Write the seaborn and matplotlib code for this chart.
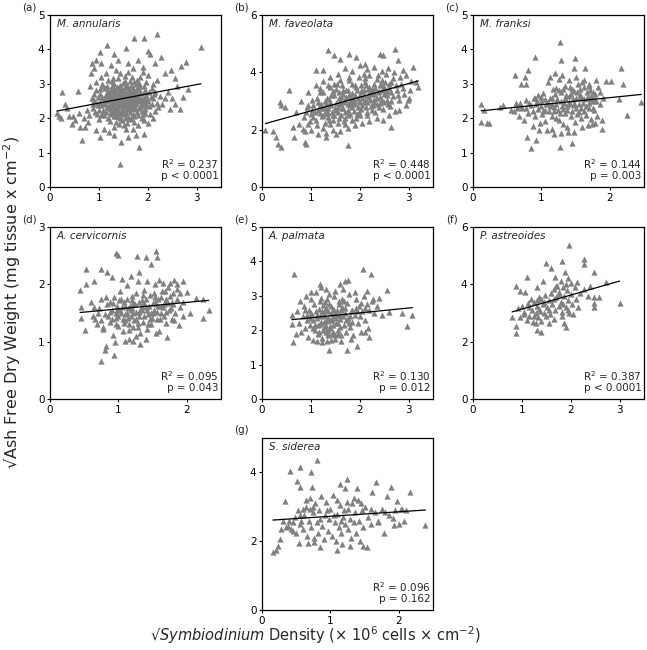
import pandas as pd
import matplotlib.pyplot as plt
import seaborn as sns

# === Data (sqrt symbiont density, sqrt AFDW) ===
species = ["M. annularis", "M. faveolata", "M. franksi", "A. cervicornis",
           "A. palmata", "P. astreoides", "S. siderea"]
panel_tags = ["(a)", "(b)", "(c)", "(d)", "(e)", "(f)", "(g)"]
r2_labels = ["0.237", "0.448", "0.144", "0.095", "0.130", "0.387", "0.096"]
p_labels = ["p < 0.0001", "p < 0.0001", "p = 0.003", "p = 0.043",
            "p = 0.012", "p < 0.0001", "p = 0.162"]
x_max = [3.5, 3.5, 2.5, 2.5, 3.5, 3.5, 2.5]
y_max = [5, 6, 5, 3, 5, 6, 5]
x_ticks = [[0, 1, 2, 3], [0, 1, 2, 3], [0, 1, 2], [0, 1, 2],
           [0, 1, 2, 3], [0, 1, 2, 3], [0, 1, 2]]
y_ticks = [[0, 1, 2, 3, 4, 5], [0, 2, 4, 6], [0, 1, 2, 3, 4, 5], [0, 1, 2, 3],
           [0, 1, 2, 3, 4, 5], [0, 2, 4, 6], [0, 2, 4]]

annularis = [
    (0.14, 2.15), (0.18, 2.05), (0.24, 2.77), (0.22, 2.0), (0.3, 2.4), (0.35, 2.3), (0.38, 2.05),
    (0.45, 1.84), (0.48, 2.05), (0.52, 1.95), (0.58, 2.8), (0.6, 2.15), (0.62, 1.75), (0.66, 1.36),
    (0.7, 2.0), (0.72, 1.75), (0.75, 2.25), (0.78, 1.9), (0.8, 2.1), (0.82, 2.95), (0.83, 3.3),
    (0.85, 3.6), (0.9, 3.45), (0.95, 3.7), (1.03, 3.93), (1.17, 4.13), (1.31, 3.88), (1.4, 3.7),
    (1.55, 4.05), (1.72, 4.34), (1.92, 4.32), (2.19, 4.44), (2.0, 3.95), (2.05, 3.88), (2.28, 3.77),
    (2.15, 3.6), (2.69, 3.52), (2.78, 3.62), (3.09, 4.08), (2.55, 3.16), (2.48, 3.4), (2.41, 2.77),
    (2.45, 2.28), (2.66, 2.28), (2.72, 2.62), (2.83, 2.86), (2.6, 2.95), (2.21, 2.33), (2.35, 2.6),
    (2.3, 2.4), (2.1, 2.0), (1.93, 1.55), (1.83, 1.17), (1.75, 1.5), (1.6, 1.45), (1.45, 1.31),
    (1.43, 0.68), (1.3, 1.5), (1.2, 1.6), (1.03, 1.46), (1.1, 1.7), (0.95, 1.65), (1.05, 3.6),
    (1.25, 3.55), (1.6, 3.6), (1.8, 3.7), (1.9, 3.5), (2.35, 3.3), (2.2, 3.1), (2.5, 2.6), (2.55, 2.4),
    (1.12, 2.41), (1.37, 2.63), (1.58, 2.28), (1.84, 2.77), (0.97, 2.12), (1.26, 2.95), (1.49, 2.51),
    (1.71, 2.06), (1.95, 2.44), (2.08, 2.89), (1.03, 2.71), (1.31, 2.18), (1.62, 2.84), (1.44, 2.02),
    (1.77, 2.52), (1.19, 2.33), (0.91, 2.53), (1.53, 3.07), (1.88, 2.21), (1.66, 2.61), (1.22, 1.93),
    (1.41, 2.87), (1.06, 2.98), (1.97, 2.66), (1.34, 2.45), (1.57, 1.86), (1.82, 3.02), (1.15, 2.67),
    (1.47, 2.29), (2.02, 2.35), (0.95, 2.82), (1.28, 2.71), (1.69, 2.37), (1.39, 3.18), (1.63, 1.98),
    (1.09, 2.24), (1.78, 2.89), (1.52, 2.68), (1.25, 2.12), (1.92, 1.95), (2.11, 2.58), (1.01, 1.97),
    (1.45, 2.76), (1.73, 2.73), (1.18, 3.12), (1.36, 1.89), (1.59, 2.45), (1.86, 2.41), (1.14, 2.55),
    (0.88, 2.31), (1.67, 3.21), (1.43, 2.39), (1.97, 3.05), (1.24, 2.83), (1.55, 2.15), (1.79, 2.17),
    (1.32, 2.99), (1.05, 2.39), (1.62, 2.52), (2.05, 2.13), (1.48, 1.95), (1.21, 2.49), (1.75, 2.98),
    (1.39, 2.24), (0.99, 2.61), (1.89, 2.58), (1.57, 2.91), (1.29, 2.34), (1.72, 1.89), (1.12, 2.88),
    (1.44, 3.31), (1.82, 2.31), (2.15, 2.77), (1.35, 2.78), (1.61, 2.33), (0.93, 2.19), (1.51, 2.59),
    (1.26, 2.58), (1.68, 2.79), (1.94, 2.82), (1.08, 2.14), (1.41, 2.11), (1.77, 2.44), (1.54, 3.24),
    (1.19, 2.02), (1.85, 3.19), (1.33, 2.52), (1.64, 2.19), (2.0, 2.49), (1.47, 2.84), (1.16, 2.77),
    (1.71, 2.64), (0.9, 2.71), (1.38, 2.35), (1.58, 2.71), (1.9, 2.12), (1.23, 2.26), (1.5, 2.42),
    (1.8, 2.62), (1.03, 2.85), (1.66, 2.95), (1.3, 2.06), (1.45, 2.59), (1.95, 2.27), (1.11, 2.45),
    (1.6, 2.04), (1.75, 2.28), (1.27, 3.08), (2.1, 2.98), (1.42, 1.84), (1.55, 2.38), (1.85, 2.93),
    (1.2, 2.64), (1.37, 2.91), (1.65, 2.44), (0.98, 2.37), (1.52, 1.79), (1.9, 3.35), (1.7, 3.45),
    (1.15, 3.3), (1.35, 3.4), (1.6, 3.35), (2.0, 3.25), (1.05, 3.2), (0.95, 3.05), (2.2, 2.45),
    (2.15, 2.2), (2.25, 2.65), (1.0, 2.25), (0.85, 2.6), (1.8, 1.8), (1.55, 1.7), (1.3, 1.75),
    (2.0, 1.85), (1.7, 1.7), (1.45, 2.68), (1.28, 2.46), (1.62, 2.67), (1.5, 2.2), (1.35, 2.3),
    (1.73, 2.5), (1.58, 2.57), (1.4, 2.55), (1.67, 2.3), (1.53, 2.9), (1.22, 2.72), (1.83, 2.5),
    (1.13, 2.52), (1.27, 2.38), (1.42, 2.47), (1.56, 2.62), (1.69, 2.55), (1.81, 2.68), (1.94, 2.6),
    (1.07, 2.62), (1.19, 2.8), (1.33, 2.66), (1.46, 2.42), (1.6, 2.76), (1.74, 2.4), (1.87, 2.72),
    (2.03, 2.77), (1.16, 2.32), (1.3, 2.62), (1.44, 2.88), (1.58, 2.5), (1.72, 2.82), (1.86, 2.36),
    (1.99, 2.57), (1.1, 2.08), (1.24, 2.18), (1.38, 2.05), (1.52, 2.12), (1.66, 2.02), (1.8, 2.08),
    (1.95, 2.15), (1.02, 2.48), (1.17, 2.94), (1.31, 2.84), (1.49, 3.02), (1.64, 3.08), (1.79, 3.12),
    (1.93, 2.95), (1.36, 2.56), (1.5, 2.36), (1.63, 2.39), (1.77, 2.62), (1.26, 2.42), (1.41, 2.72),
    (1.55, 2.53), (1.69, 2.46), (1.84, 2.56), (1.21, 2.57), (1.47, 2.63), (1.59, 2.82), (1.71, 2.3),
    (1.34, 2.2), (1.48, 2.71), (1.62, 2.28), (1.76, 2.76), (1.9, 2.46), (1.14, 2.18), (1.39, 2.42),
    (1.53, 2.47), (1.67, 2.69), (1.82, 2.86), (2.08, 2.42), (2.12, 2.7), (0.96, 2.45), (0.89, 2.4),
    (1.04, 2.1), (1.58, 2.97), (1.43, 2.97), (1.29, 3.18), (1.72, 3.05), (1.35, 2.05), (1.54, 2.0),
    (1.7, 2.13), (1.88, 2.02), (1.23, 2.38), (1.46, 2.16), (1.61, 2.6), (1.51, 2.79), (1.66, 2.53),
    (1.32, 2.76), (1.57, 2.33), (1.8, 2.52), (1.4, 2.61), (1.27, 2.27), (1.69, 2.87), (1.97, 2.37),
    (1.11, 2.6), (1.08, 2.93), (2.06, 2.62), (1.92, 2.75),
]

faveolata = [
    (0.07, 2.0), (0.22, 1.95), (0.29, 1.74), (0.32, 1.51), (0.39, 1.4), (0.36, 2.97), (0.38, 2.85),
    (0.56, 3.4), (0.48, 2.79), (0.63, 2.09), (0.65, 1.74), (0.84, 2.03), (0.87, 1.57), (0.9, 1.51),
    (1.18, 2.85), (1.11, 4.07), (1.25, 4.07), (1.35, 4.77), (1.47, 4.6), (1.6, 4.48), (1.79, 4.65),
    (1.93, 4.53), (2.1, 4.3), (2.41, 4.65), (2.48, 4.6), (2.72, 4.83), (2.79, 4.42), (2.89, 4.07),
    (3.1, 4.19), (3.16, 3.66), (3.2, 3.49), (3.03, 3.37), (2.99, 3.02), (2.65, 2.09), (2.48, 2.33),
    (1.76, 1.45), (1.52, 1.86), (1.32, 1.74), (0.94, 2.21),
    (0.85, 2.45), (0.92, 2.78), (0.98, 2.31), (1.03, 3.05), (1.08, 2.62), (1.12, 2.18), (1.15, 2.95),
    (1.19, 3.32), (1.22, 2.48), (1.26, 2.77), (1.29, 2.22), (1.33, 3.12), (1.36, 2.58), (1.39, 3.48),
    (1.42, 2.85), (1.45, 2.35), (1.48, 3.22), (1.51, 2.68), (1.54, 3.61), (1.57, 2.42), (1.6, 3.01),
    (1.63, 2.74), (1.66, 3.38), (1.69, 2.21), (1.72, 3.15), (1.75, 2.88), (1.78, 3.72), (1.81, 2.55),
    (1.84, 3.28), (1.87, 2.96), (1.9, 3.55), (1.93, 2.39), (1.96, 3.09), (1.99, 3.84), (2.02, 2.72),
    (2.05, 3.35), (2.08, 2.98), (2.11, 3.66), (2.14, 2.51), (2.17, 3.2), (2.2, 3.91), (2.23, 2.84),
    (2.26, 3.43), (2.29, 3.08), (2.32, 2.62), (2.35, 3.77), (2.38, 3.31), (2.41, 2.93), (2.44, 3.58),
    (2.47, 2.71), (2.5, 3.25), (2.53, 3.95), (2.56, 3.02), (2.59, 3.47), (2.62, 2.82), (2.65, 3.68),
    (2.68, 3.18), (2.72, 2.65), (2.76, 3.4), (2.8, 3.05), (2.85, 3.6), (2.9, 3.25), (2.95, 2.85),
    (2.82, 3.85), (2.7, 4.0), (2.58, 4.15), (2.45, 4.05), (2.3, 4.2), (2.15, 4.1), (2.0, 4.25),
    (1.85, 4.05), (1.7, 4.15), (1.55, 3.95), (1.4, 3.85), (1.25, 3.7), (1.1, 3.55), (0.95, 3.3),
    (0.8, 3.0), (0.7, 2.6), (0.75, 2.2), (0.88, 1.95), (1.0, 2.0), (1.15, 1.85), (1.3, 1.9),
    (1.45, 2.0), (1.6, 1.95), (1.75, 2.05), (1.9, 2.15), (2.05, 2.25), (2.2, 2.3), (2.35, 2.4),
    (2.6, 2.5), (2.8, 2.7), (3.0, 3.1), (3.05, 3.7), (2.95, 3.9),
    (1.05, 2.85), (1.18, 2.58), (1.31, 2.9), (1.44, 2.62), (1.57, 3.12), (1.7, 2.62), (1.83, 3.05),
    (1.96, 2.78), (2.09, 3.22), (2.22, 3.05), (2.35, 3.12), (2.48, 3.38), (1.12, 3.1), (1.25, 3.3),
    (1.38, 3.08), (1.51, 2.92), (1.64, 3.55), (1.77, 3.38), (1.9, 3.2), (2.03, 3.55), (2.16, 3.42),
    (2.29, 3.6), (2.42, 3.15), (1.35, 2.45), (1.48, 2.5), (1.62, 2.5), (1.76, 2.7), (1.88, 2.65),
    (2.0, 2.95), (2.12, 2.8), (2.25, 2.7), (1.0, 2.55), (0.9, 2.6), (1.2, 2.75), (1.55, 2.8),
    (1.8, 2.85), (2.05, 3.1), (2.3, 3.25), (2.55, 3.2), (2.65, 3.0), (1.45, 3.35), (1.65, 3.25),
    (1.95, 3.4), (2.2, 3.5), (2.45, 3.75), (2.6, 3.6), (1.35, 3.55), (1.6, 3.75), (1.85, 3.6),
    (2.1, 3.8), (1.1, 2.35), (1.25, 2.05), (1.4, 2.2), (1.55, 2.25), (1.7, 2.4), (1.85, 2.35),
    (2.0, 2.5), (2.15, 2.6), (2.4, 2.8), (2.5, 2.95),
    (1.2, 2.9), (1.3, 2.68), (1.4, 2.95), (1.5, 2.75), (1.6, 2.88), (1.7, 3.05), (1.8, 2.95),
    (1.9, 2.88), (2.0, 3.2), (2.1, 3.05), (2.2, 3.15), (2.3, 2.95), (2.4, 3.35), (2.5, 3.5),
    (1.25, 2.52), (1.35, 2.75), (1.45, 2.5), (1.55, 2.62), (1.65, 2.75), (1.75, 2.52), (1.85, 2.78),
    (1.95, 2.55), (2.05, 2.85), (2.15, 2.95), (2.25, 3.28), (2.35, 2.9), (2.45, 3.05), (2.55, 3.35),
    (2.65, 3.3), (2.75, 3.55), (1.42, 3.2), (1.52, 3.42), (1.62, 3.15), (1.72, 3.4), (1.82, 3.15),
    (1.92, 3.5), (2.02, 3.35), (2.12, 3.55), (2.22, 3.3), (2.32, 3.45), (2.42, 3.55), (2.52, 3.65),
    (1.15, 2.7), (1.05, 2.45), (0.95, 2.85), (1.28, 3.0), (1.58, 3.3), (1.88, 3.05), (2.18, 3.25),
    (2.48, 3.45), (1.68, 2.95), (1.98, 3.0), (2.28, 3.35), (1.78, 3.2), (2.08, 3.4), (1.38, 2.32),
    (1.68, 2.3), (1.98, 2.62), (2.28, 2.85), (2.58, 2.9), (1.48, 3.6), (1.78, 3.85), (2.08, 3.95),
    (2.38, 3.9), (2.68, 3.8), (1.18, 3.45), (2.78, 3.2), (2.88, 3.45), (1.02, 2.7), (1.32, 2.58),
]

franksi = [
    (0.12, 2.4), (0.16, 2.23), (0.12, 1.9), (0.2, 1.87), (0.23, 1.87), (0.4, 2.32), (0.44, 2.38),
    (0.62, 3.27), (0.7, 2.98), (0.76, 3.2), (0.81, 3.39), (0.9, 3.79), (0.79, 1.46), (0.85, 1.12),
    (0.92, 1.36), (1.27, 4.22), (1.29, 3.7), (1.49, 3.75), (1.47, 3.47), (1.27, 1.17), (1.45, 1.27),
    (1.64, 3.45), (1.8, 3.11), (1.94, 3.07), (2.02, 3.08), (2.16, 3.47), (2.19, 3.0), (2.25, 2.08),
    (2.46, 2.48), (2.14, 2.55), (1.89, 1.95), (1.88, 1.7), (1.74, 1.84),
    (0.55, 2.25), (0.6, 2.2), (0.63, 2.45), (0.67, 2.05), (0.7, 2.35), (0.72, 2.3), (0.75, 1.95),
    (0.78, 2.52), (0.8, 2.15), (0.82, 2.45), (0.85, 2.38), (0.87, 1.78), (0.89, 2.6), (0.91, 2.05),
    (0.93, 2.5), (0.95, 2.28), (0.97, 1.65), (0.99, 2.5), (1.01, 2.12), (1.03, 2.72), (1.05, 1.92),
    (1.07, 2.4), (1.09, 3.05), (1.11, 2.2), (1.13, 2.6), (1.15, 1.7), (1.17, 2.85), (1.19, 2.32),
    (1.21, 2.0), (1.23, 2.55), (1.25, 3.15), (1.27, 2.15), (1.29, 2.75), (1.31, 1.82), (1.33, 2.45),
    (1.35, 2.95), (1.37, 2.25), (1.39, 1.6), (1.41, 2.65), (1.43, 2.05), (1.45, 2.85), (1.47, 2.38),
    (1.49, 1.9), (1.51, 2.58), (1.53, 3.0), (1.55, 2.18), (1.57, 2.7), (1.59, 1.75), (1.61, 2.45),
    (1.63, 2.92), (1.65, 2.1), (1.67, 2.6), (1.69, 2.3), (1.71, 2.82), (1.73, 1.98), (1.75, 2.5),
    (1.77, 2.25), (1.79, 2.7), (1.82, 2.05), (1.85, 2.4), (1.83, 2.9), (1.78, 1.85), (0.68, 2.45),
    (0.77, 3.0), (0.9, 2.6), (1.0, 2.62), (1.12, 3.2), (1.2, 3.3), (1.3, 3.25), (1.4, 3.1),
    (1.5, 3.2), (1.6, 3.05), (1.7, 3.0), (0.98, 1.85), (1.08, 1.65), (1.18, 1.55), (1.28, 1.58),
    (1.38, 1.75), (1.48, 1.6), (1.58, 2.0), (1.68, 1.8), (1.0, 2.35), (1.1, 2.48), (1.2, 2.7),
    (1.3, 2.35), (1.4, 2.48), (1.5, 2.3), (1.6, 2.6), (1.7, 2.45), (1.15, 2.05), (1.25, 1.95),
    (1.35, 2.15), (1.45, 2.2), (1.55, 2.42), (1.65, 2.35), (0.95, 2.68), (1.05, 2.55), (1.16, 2.42),
    (1.26, 2.82), (1.36, 2.68), (1.46, 2.55), (1.56, 2.85), (1.66, 2.75), (1.24, 2.25), (1.34, 2.58),
    (1.44, 2.7), (0.88, 2.2), (0.78, 2.3), (0.65, 2.3),
    (1.75, 2.3), (1.8, 2.5), (1.85, 2.75), (1.9, 2.6), (1.7, 2.95), (1.62, 3.1), (1.78, 2.55),
    (1.72, 2.65), (1.05, 2.25), (1.15, 2.6), (1.22, 2.42), (1.32, 2.28), (1.42, 2.4), (1.52, 2.75),
    (1.62, 2.55), (1.72, 2.55), (1.12, 2.35), (1.28, 2.5), (1.38, 2.35), (1.48, 2.45), (1.58, 2.3),
    (1.68, 2.62), (1.18, 2.2), (1.42, 2.92), (1.32, 2.85), (1.52, 2.12), (1.62, 2.2), (1.02, 2.2),
    (0.92, 2.42), (1.22, 2.88), (1.48, 2.78), (1.56, 2.62), (1.76, 2.75),
]

cervicornis = [
    (0.44, 1.9), (0.46, 1.61), (0.45, 1.41), (0.51, 1.2), (0.52, 2.26), (0.53, 2.01), (0.65, 2.06),
    (0.74, 2.27), (0.83, 2.21), (0.96, 2.54), (0.99, 2.51), (0.94, 0.77), (0.74, 0.66), (0.8, 0.86),
    (0.82, 0.92), (1.27, 2.49), (1.4, 2.48), (1.47, 2.35), (1.55, 2.59), (1.56, 2.47), (1.71, 1.09),
    (1.31, 0.96), (1.21, 1.02), (1.89, 1.29), (2.01, 1.86), (2.13, 1.77), (2.24, 1.74), (2.23, 1.42),
    (2.32, 1.56), (1.95, 2.06), (1.82, 2.08), (1.65, 2.03),
    (0.6, 1.7), (0.63, 1.45), (0.66, 1.4), (0.69, 1.3), (0.72, 1.58), (0.75, 1.75), (0.78, 1.22),
    (0.8, 1.48), (0.83, 1.65), (0.85, 1.45), (0.88, 1.35), (0.9, 1.55), (0.92, 1.12), (0.94, 1.78),
    (0.96, 1.42), (0.98, 1.62), (1.0, 1.28), (1.02, 1.88), (1.04, 1.5), (1.06, 1.18), (1.08, 1.7),
    (1.1, 1.38), (1.12, 1.98), (1.14, 1.58), (1.16, 1.05), (1.18, 1.45), (1.2, 1.8), (1.22, 1.25),
    (1.24, 1.65), (1.26, 1.4), (1.28, 2.05), (1.3, 1.52), (1.32, 1.15), (1.34, 1.72), (1.36, 1.35),
    (1.38, 1.9), (1.4, 1.6), (1.42, 1.22), (1.44, 1.48), (1.46, 1.82), (1.48, 1.3), (1.5, 1.68),
    (1.52, 1.55), (1.54, 2.0), (1.56, 1.4), (1.58, 1.75), (1.6, 1.18), (1.62, 1.62), (1.64, 1.88),
    (1.66, 1.45), (1.68, 1.7), (1.7, 1.32), (1.72, 1.95), (1.74, 1.55), (1.76, 1.8), (1.78, 1.4),
    (1.8, 1.65), (1.83, 1.5), (1.86, 1.75), (1.9, 1.6), (1.95, 1.45), (0.65, 1.6), (0.7, 1.5),
    (0.75, 1.38), (0.82, 1.78), (0.87, 1.52), (0.92, 1.68), (0.97, 1.3), (1.01, 1.72), (1.05, 1.6),
    (1.09, 1.48), (1.13, 1.75), (1.17, 1.62), (1.21, 1.5), (1.25, 1.85), (1.29, 1.33), (1.33, 1.58),
    (1.37, 1.45), (1.41, 1.75), (1.45, 1.62), (1.49, 1.42), (1.53, 1.78), (1.57, 1.52), (1.61, 1.4),
    (1.65, 1.6), (1.69, 1.52), (1.73, 1.68), (1.77, 1.58), (1.81, 1.38), (1.85, 1.92), (0.78, 1.25),
    (0.9, 2.12), (1.05, 2.1), (1.18, 2.15), (1.3, 2.22), (1.42, 2.05), (1.6, 2.08), (1.75, 2.02),
    (0.95, 1.0), (1.1, 1.02), (1.25, 1.1), (1.4, 1.05), (1.55, 1.15), (1.0, 1.45), (1.08, 1.32),
    (1.15, 1.3), (1.23, 1.38), (1.3, 1.7), (1.35, 1.55), (1.2, 1.58), (1.12, 1.5), (0.98, 1.55),
    (0.88, 1.7), (1.47, 1.5), (1.55, 1.65), (1.62, 1.78), (1.68, 1.88), (1.8, 1.85),
    (1.9, 1.85), (1.95, 1.7), (2.05, 1.5), (1.85, 2.0), (1.02, 1.55), (1.1, 1.62), (1.18, 1.55),
    (1.26, 1.52), (1.34, 1.62), (1.42, 1.55), (1.5, 1.5), (1.58, 1.62), (1.66, 1.65), (1.06, 1.4),
    (1.14, 1.42), (1.22, 1.68), (1.3, 1.45), (1.38, 1.68), (1.46, 1.4), (1.54, 1.7), (1.62, 1.5),
    (0.96, 1.5), (0.9, 1.4), (1.04, 1.75), (1.2, 1.72), (1.36, 1.82), (1.52, 1.85), (1.7, 1.75),
    (1.78, 1.7), (1.16, 1.2), (1.28, 1.25), (1.44, 1.3),
]

palmata = [
    (0.65, 3.62), (0.61, 2.43), (0.61, 2.17), (0.63, 1.65), (0.7, 1.89), (1.19, 3.35), (1.36, 1.93),
    (1.38, 1.41), (1.73, 1.41), (1.94, 1.55), (2.07, 3.79), (2.23, 3.62), (1.77, 3.45), (1.7, 3.42),
    (1.6, 3.35), (2.55, 3.16), (2.6, 2.52), (2.87, 2.5), (2.96, 2.11), (3.08, 2.43), (2.28, 2.91),
    (2.2, 1.8), (2.11, 1.94),
    (0.72, 2.55), (0.75, 2.2), (0.78, 2.85), (0.8, 1.95), (0.83, 2.4), (0.86, 2.7), (0.88, 2.05),
    (0.9, 3.0), (0.92, 2.3), (0.95, 1.8), (0.97, 2.6), (0.99, 2.15), (1.01, 2.9), (1.03, 2.45),
    (1.05, 1.72), (1.07, 2.75), (1.09, 2.0), (1.11, 3.1), (1.13, 2.35), (1.15, 1.88), (1.17, 2.62),
    (1.19, 2.18), (1.21, 2.95), (1.23, 1.78), (1.25, 2.48), (1.27, 2.08), (1.29, 2.82), (1.31, 2.28),
    (1.33, 1.68), (1.35, 2.55), (1.37, 3.05), (1.39, 2.12), (1.41, 2.7), (1.43, 1.9), (1.45, 2.4),
    (1.47, 2.98), (1.49, 1.75), (1.51, 2.22), (1.53, 2.6), (1.55, 2.02), (1.57, 2.85), (1.59, 2.32),
    (1.61, 1.85), (1.63, 2.68), (1.65, 3.2), (1.67, 2.15), (1.69, 2.5), (1.71, 1.95), (1.73, 2.78),
    (1.75, 2.35), (1.78, 3.05), (1.81, 2.1), (1.84, 2.6), (1.87, 1.85), (1.9, 2.45), (1.93, 2.9),
    (1.96, 2.2), (1.99, 2.7), (2.02, 1.95), (2.05, 2.55), (2.08, 3.0), (2.11, 2.3), (2.14, 2.75),
    (2.17, 2.05), (2.2, 2.6), (2.25, 2.85), (2.3, 2.5), (2.35, 2.7), (2.4, 2.95), (2.45, 2.45),
    (1.1, 2.55), (1.2, 2.25), (1.3, 2.65), (1.4, 2.3), (1.5, 2.5), (1.6, 2.1), (1.7, 2.65),
    (1.8, 2.4), (1.25, 2.0), (1.35, 1.85), (1.45, 2.15), (1.55, 1.9), (1.15, 2.15), (1.05, 2.3),
    (1.35, 2.35), (1.45, 2.62), (1.28, 2.4), (1.18, 2.42), (1.0, 2.5), (0.93, 2.45), (1.6, 2.45),
    (1.85, 2.25), (2.0, 2.4), (1.95, 2.55), (2.1, 2.65), (1.0, 3.1), (1.2, 3.25), (1.3, 3.2),
    (1.5, 3.15), (1.9, 3.1), (2.15, 3.15), (1.42, 1.72), (1.62, 1.68), (1.82, 1.75), (1.22, 1.65),
    (1.12, 1.7),
    (1.12, 2.45), (1.22, 2.55), (1.32, 2.12), (1.42, 2.5), (1.52, 2.35), (1.62, 2.58), (1.72, 2.3),
    (1.82, 2.55), (1.08, 2.15), (1.18, 2.85), (1.28, 2.6), (1.38, 2.75), (1.48, 2.6), (1.58, 2.75),
    (1.68, 2.85), (1.78, 2.2), (1.26, 2.25), (1.36, 2.02), (1.46, 1.95), (1.56, 2.2), (1.66, 2.4),
    (1.16, 1.95), (1.32, 1.95), (1.44, 2.3), (1.54, 2.45), (1.24, 2.72), (1.34, 2.9), (1.64, 2.9),
    (1.92, 2.65), (2.02, 2.8), (0.98, 2.35), (0.88, 2.6), (1.04, 2.05), (1.5, 1.85), (1.4, 2.05),
]

astreoides = [
    (0.8, 2.87), (0.87, 3.93), (0.88, 2.56), (0.88, 2.3), (0.96, 3.78), (0.92, 3.16), (1.07, 3.72),
    (1.11, 4.27), (1.0, 3.26), (0.97, 2.85), (1.04, 2.97), (1.32, 3.92), (1.43, 4.1), (1.5, 4.74),
    (1.6, 4.56), (1.67, 4.24), (1.82, 4.83), (1.89, 4.42), (1.96, 5.38), (1.95, 4.22), (2.13, 4.07),
    (2.28, 4.88), (2.28, 4.71), (2.27, 3.84), (2.48, 4.42), (2.47, 3.55), (2.47, 3.34), (2.57, 3.55),
    (2.47, 3.2), (2.73, 4.07), (3.0, 3.34), (1.31, 2.41), (1.39, 2.35), (1.28, 2.65), (1.55, 2.65),
    (1.65, 2.79), (1.87, 2.65), (1.9, 2.5), (1.82, 2.91),
    (1.05, 3.05), (1.1, 2.75), (1.12, 3.35), (1.15, 2.9), (1.18, 3.5), (1.2, 3.12), (1.22, 2.7),
    (1.25, 3.4), (1.28, 3.0), (1.3, 3.25), (1.33, 2.85), (1.36, 3.55), (1.38, 3.08), (1.4, 2.72),
    (1.43, 3.3), (1.46, 3.0), (1.48, 3.62), (1.5, 2.88), (1.52, 3.2), (1.55, 3.45), (1.58, 2.98),
    (1.6, 3.7), (1.62, 3.3), (1.65, 3.85), (1.67, 3.1), (1.7, 3.55), (1.72, 3.95), (1.75, 3.25),
    (1.77, 3.75), (1.8, 3.4), (1.82, 3.05), (1.85, 3.9), (1.87, 3.6), (1.9, 3.2), (1.92, 3.8),
    (1.95, 3.45), (1.97, 3.0), (2.0, 3.65), (2.02, 3.3), (2.05, 2.95), (2.08, 3.9), (2.1, 3.5),
    (2.15, 3.2), (2.2, 3.7), (2.35, 3.6), (2.4, 3.95), (1.15, 3.2), (1.25, 2.9), (1.35, 3.15),
    (1.45, 3.4), (1.55, 3.1), (1.65, 3.5), (1.75, 3.65), (1.85, 3.3), (1.95, 3.1), (1.7, 3.95),
    (1.8, 4.1), (1.9, 4.0), (2.0, 4.05), (1.3, 3.45), (1.4, 3.5),
]

siderea = [
    (0.16, 1.68), (0.2, 1.75), (0.24, 1.87), (0.27, 2.07), (0.34, 3.17), (0.41, 4.03), (0.51, 3.75),
    (0.56, 4.17), (0.56, 3.57), (0.72, 4.01), (0.81, 4.37), (0.73, 3.59), (0.54, 1.94), (0.67, 1.94),
    (0.76, 1.97), (0.85, 1.84), (1.1, 1.75), (1.17, 1.92), (1.28, 1.87), (1.24, 3.8), (1.14, 3.65),
    (1.21, 3.55), (1.39, 3.54), (1.67, 3.72), (1.61, 3.43), (1.88, 3.57), (1.83, 3.3), (1.98, 3.18),
    (2.16, 3.43), (2.03, 2.94), (2.05, 2.94), (1.93, 2.46), (2.07, 2.58), (1.92, 2.68), (1.78, 2.24),
    (1.54, 1.83), (1.47, 1.85), (2.39, 2.46),
    (0.35, 2.4), (0.38, 2.45), (0.4, 2.6), (0.43, 2.35), (0.46, 2.55), (0.48, 2.7), (0.5, 2.25),
    (0.52, 2.9), (0.55, 2.5), (0.57, 2.6), (0.6, 2.35), (0.62, 2.75), (0.64, 3.0), (0.66, 2.15),
    (0.68, 2.6), (0.7, 3.25), (0.72, 2.4), (0.74, 2.85), (0.76, 2.1), (0.78, 3.1), (0.8, 2.55),
    (0.82, 2.25), (0.84, 2.9), (0.86, 3.3), (0.88, 2.45), (0.9, 2.05), (0.92, 2.75), (0.94, 3.15),
    (0.96, 2.3), (0.98, 2.65), (1.0, 2.95), (1.02, 2.15), (1.04, 3.35), (1.06, 2.55), (1.08, 2.0),
    (1.1, 2.8), (1.12, 2.4), (1.14, 3.05), (1.16, 2.25), (1.18, 2.7), (1.2, 2.9), (1.22, 2.5),
    (1.24, 3.15), (1.26, 2.35), (1.28, 2.65), (1.3, 2.1), (1.32, 3.1), (1.34, 2.55), (1.36, 2.85),
    (1.38, 2.25), (1.4, 3.2), (1.42, 2.6), (1.44, 2.0), (1.46, 2.9), (1.48, 2.4), (1.5, 3.0),
    (1.55, 2.7), (1.6, 2.5), (1.65, 2.85), (1.7, 2.55), (1.75, 2.95), (1.85, 2.75), (1.95, 2.9),
    (2.1, 2.9), (0.6, 2.95), (0.65, 3.2), (0.75, 3.0), (0.95, 2.9), (1.05, 2.75), (1.15, 2.6),
    (1.25, 2.95), (1.1, 3.2), (0.85, 2.65), (0.7, 2.95), (0.55, 2.75), (0.45, 2.3), (0.3, 2.6),
    (0.28, 2.35), (1.35, 3.25), (1.45, 3.1), (1.6, 2.95), (1.7, 2.6), (1.8, 2.85), (2.0, 2.5),
]

all_points = [annularis, faveolata, franksi, cervicornis, palmata, astreoides, siderea]

# === Style ===
sns.set_style("ticks")
plt.rcParams["font.family"] = ["DejaVu Sans"]
plt.rcParams["xtick.labelsize"] = 7.5
plt.rcParams["ytick.labelsize"] = 7.5
plt.rcParams["xtick.major.size"] = 2.5
plt.rcParams["ytick.major.size"] = 2.5

fig = plt.figure(figsize=(6.47, 6.5), dpi=100)
W, H = 647, 650
# panel boxes in pixels (left, top), all about 171 x 172
lefts = [50, 262, 473, 50, 262, 473, 262]
tops = [15, 15, 15, 227, 227, 227, 438]

for i, pts in enumerate(all_points):
    df = pd.DataFrame(pts, columns=["density", "afdw"])
    ax = fig.add_axes([lefts[i] / W, 1 - (tops[i] + 172) / H, 171 / W, 172 / H])
    sns.regplot(data=df, x="density", y="afdw", ax=ax, ci=None, marker="^",
                scatter_kws=dict(s=20, color="#808080", linewidths=0, alpha=1),
                line_kws=dict(color="black", lw=0.9))
    ax.set_xlim(0, x_max[i])
    ax.set_ylim(0, y_max[i])
    ax.set_xticks(x_ticks[i])
    ax.set_yticks(y_ticks[i])
    ax.set_xlabel("")
    ax.set_ylabel("")
    for s in ax.spines.values():
        s.set_linewidth(0.9)
        s.set_color("black")
    ax.tick_params(colors="black", width=0.8, pad=1.5)
    ax.text(-0.12, 1.045, panel_tags[i], transform=ax.transAxes, fontsize=7.5,
            ha="center", va="center")
    ax.text(0.04, 0.945, species[i], transform=ax.transAxes, fontsize=7.5,
            style="italic", ha="left", va="center")
    ax.text(0.985, 0.135, "R$^2$ = " + r2_labels[i], transform=ax.transAxes,
            fontsize=7.5, ha="right", va="center")
    ax.text(0.985, 0.065, p_labels[i], transform=ax.transAxes, fontsize=7.5,
            ha="right", va="center")

fig.text(12 / W, 1 - 303 / H, "√Ash Free Dry Weight (mg tissue x cm$^{-2}$)",
         rotation=90, ha="center", va="center", fontsize=11.5)
fig.text(315 / W, 1 - 635 / H,
         "√$\\mathit{Symbiodinium}$ Density ($\\times$ 10$^6$ cells $\\times$ cm$^{-2}$)",
         ha="center", va="center", fontsize=10.5)

plt.savefig("out.png", dpi=100)
